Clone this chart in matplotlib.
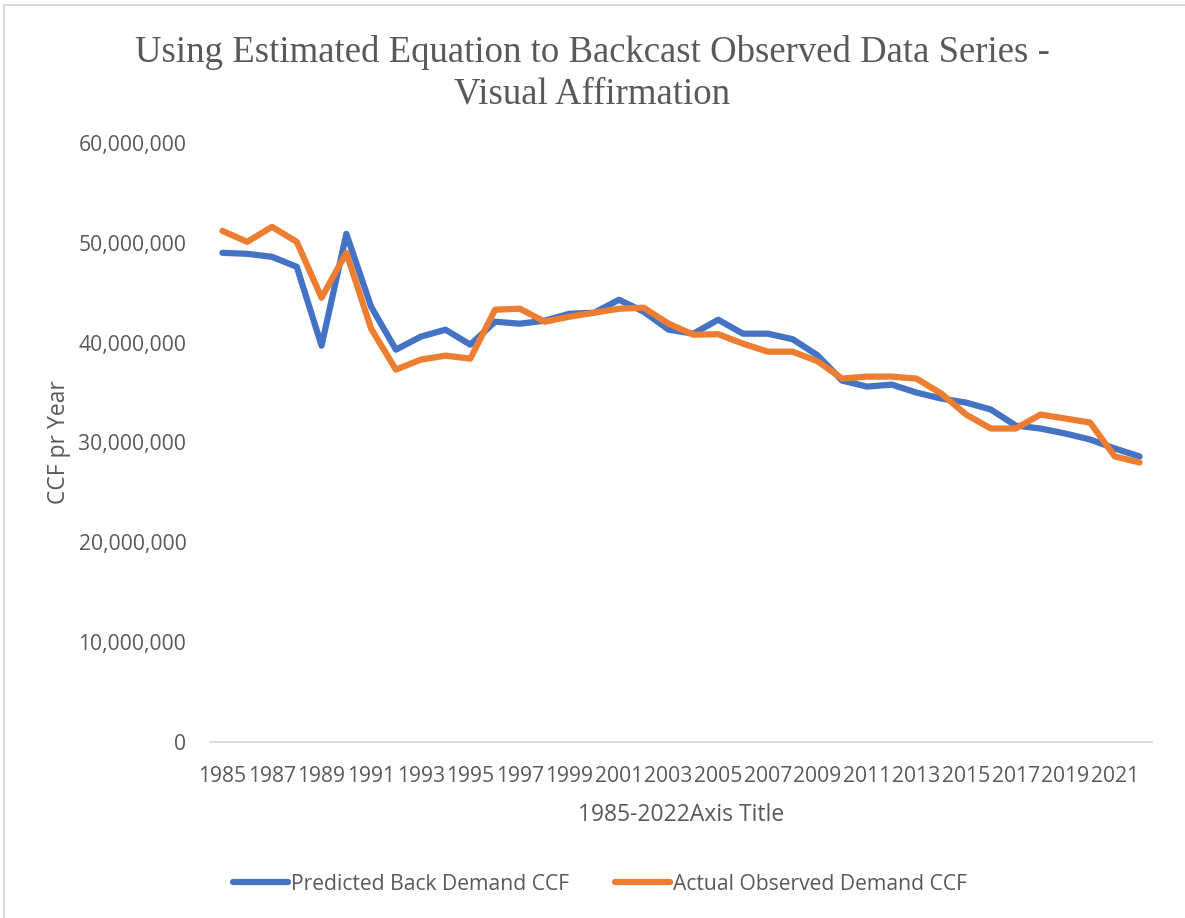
import matplotlib
matplotlib.use("Agg")
import matplotlib.pyplot as plt
from matplotlib.patches import Rectangle
from matplotlib.ticker import FuncFormatter

years = list(range(1985, 2023))

# CCF per year
predicted = [
    49.0e6, 48.9e6, 48.6e6, 47.6e6, 39.7e6, 50.9e6, 43.6e6, 39.3e6, 40.6e6, 41.3e6,
    39.8e6, 42.1e6, 41.9e6, 42.2e6, 42.9e6, 43.0e6, 44.3e6, 43.1e6, 41.3e6, 40.9e6,
    42.3e6, 40.9e6, 40.9e6, 40.35e6, 38.75e6, 36.2e6, 35.6e6, 35.8e6, 35.0e6, 34.4e6,
    34.0e6, 33.3e6, 31.7e6, 31.4e6, 30.9e6, 30.3e6, 29.4e6, 28.6e6,
]
actual = [
    51.2e6, 50.1e6, 51.6e6, 50.1e6, 44.5e6, 49.0e6, 41.4e6, 37.3e6, 38.3e6, 38.7e6,
    38.4e6, 43.3e6, 43.4e6, 42.1e6, 42.6e6, 43.0e6, 43.4e6, 43.5e6, 41.9e6, 40.8e6,
    40.85e6, 39.9e6, 39.1e6, 39.1e6, 38.15e6, 36.4e6, 36.6e6, 36.6e6, 36.4e6, 34.9e6,
    32.8e6, 31.4e6, 31.4e6, 32.8e6, 32.4e6, 32.0e6, 28.6e6, 28.0e6,
]

txt = "#595959"
blue = "#4472C4"
orange = "#ED7D31"

fig = plt.figure(figsize=(11.85, 9.18), dpi=100)
fig.patches.append(Rectangle((4 / 1185, -0.1), 1.2, 1.1 - 5 / 918, transform=fig.transFigure,
                             fill=False, edgecolor="#d9d9d9", linewidth=1.5))

ax = fig.add_axes([210 / 1185, 1 - 742 / 918, 942 / 1185, 599 / 918])
x = list(range(len(years)))
ax.plot(x, predicted, color=blue, linewidth=4.5, solid_capstyle="round",
        solid_joinstyle="round", label="Predicted Back Demand CCF")
ax.plot(x, actual, color=orange, linewidth=4.5, solid_capstyle="round",
        solid_joinstyle="round", label="Actual Observed Demand CCF")

ax.set_xlim(-0.5, len(years) - 0.5)
ax.set_ylim(0, 60e6)
ax.set_yticks(range(0, 60000001, 10000000))
ax.yaxis.set_major_formatter(FuncFormatter(lambda v, p: f"{int(v):,}"))
ax.set_xticks(x[::2])
ax.set_xticklabels([str(y) for y in years[::2]])

for s in ["top", "right", "left"]:
    ax.spines[s].set_visible(False)
ax.spines["bottom"].set_color("#d9d9d9")
ax.spines["bottom"].set_linewidth(1.3)
ax.tick_params(length=0, labelsize=15.2, labelcolor=txt)
ax.tick_params(axis="y", pad=17)
ax.tick_params(axis="x", pad=17)
for lab in ax.get_xticklabels() + ax.get_yticklabels():
    lab.set_fontfamily("Open Sans")

ax.set_ylabel("CCF pr Year", fontsize=16.5, color=txt, family="Open Sans", labelpad=5)
ax.set_xlabel("1985-2022Axis Title", fontsize=16.5, color=txt, family="Open Sans", labelpad=12)

fig.text(0.5, 1 - 73 / 918, "Using Estimated Equation to Backcast Observed Data Series -\nVisual Affirmation",
         ha="center", va="center", fontsize=26.5, color=txt, family="Liberation Serif",
         linespacing=1.25)

leg = fig.legend(loc="center", bbox_to_anchor=(600 / 1185, 1 - 884 / 918), ncol=2, frameon=False,
                 prop={"family": "Open Sans", "size": 15.2}, handlelength=2.6,
                 handletextpad=0.15, columnspacing=2.2)
for t in leg.get_texts():
    t.set_color(txt)

fig.savefig("out.png", dpi=100, facecolor="white")
